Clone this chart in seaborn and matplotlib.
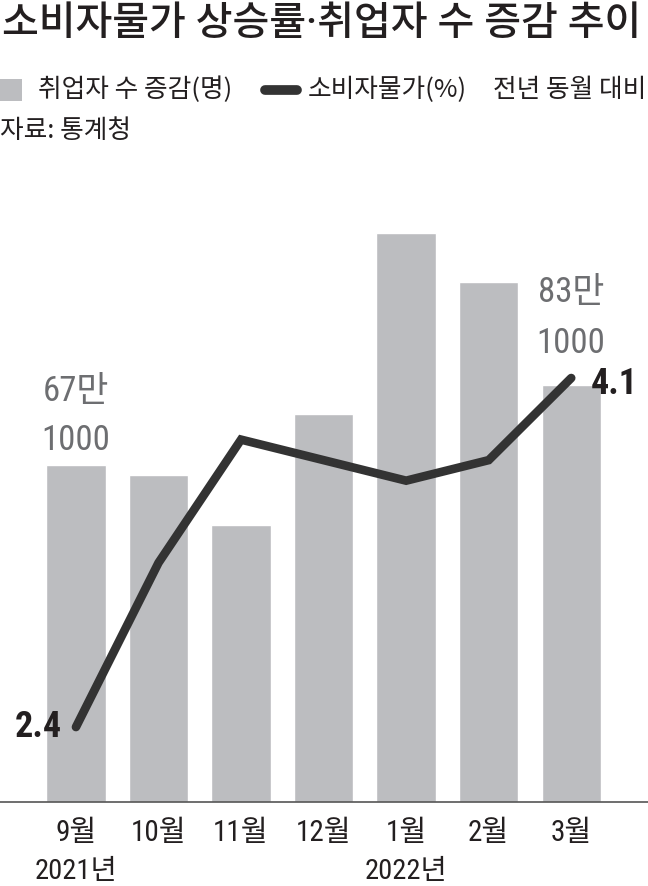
import matplotlib
matplotlib.use('Agg')
import matplotlib.pyplot as plt
import seaborn as sns
from matplotlib import font_manager
from matplotlib.patches import Rectangle
from matplotlib.lines import Line2D

# ---- data ----
months = ['9월', '10월', '11월', '12월', '1월', '2월', '3월']
year_labels = ['2021년', '', '', '', '2022년', '', '']
employment = [671000, 652000, 553000, 773000, 1135000, 1037000, 831000]
cpi = [2.4, 3.2, 3.8, 3.7, 3.6, 3.7, 4.1]

title = '소비자물가 상승률·취업자 수 증감 추이'
legend_bar = '취업자 수 증감(명)'
legend_line = '소비자물가(%)'
legend_note = '전년 동월 대비'
source = '자료: 통계청'
first_label = '67만\n1000'
last_label = '83만\n1000'

BAR = '#bcbdc0'
LINE = '#333333'
TXT = '#231f20'
GRAY = '#6d6e71'

sns.set_theme(style='white')
avail = {f.name for f in font_manager.fontManager.ttflist}
cjk_names = ['Noto Sans CJK KR', 'Noto Sans CJK JP', 'Noto Sans CJK SC', 'Noto Sans CJK TC']
cjk_first = [n for n in cjk_names if n in avail][:1] or ['Noto Sans CJK KR']
cjk = cjk_first + ['DejaVu Sans']
narrow = [n for n in ['Liberation Sans Narrow', 'Roboto Condensed'] if n in avail] + cjk
latin_first = [n for n in ['Roboto'] if n in avail] + cjk
plt.rcParams['font.family'] = cjk

W, H = 648, 886
fig = plt.figure(figsize=(W / 100, H / 100), dpi=100)
fig.patch.set_facecolor('white')

def fx(x):
    return x / W

def fy(y):
    return 1 - y / H

base_y = 802
top_y = 200
ax = fig.add_axes([0, fy(base_y), 1, (base_y - top_y) / H])
sns.barplot(x=months, y=employment, color=BAR, saturation=1, width=0.72, ax=ax)
ax.set_xlim(-0.92, 6.93)
ax.set_ylim(0, 1.2e6)
ax.set_yticks([])
ax.set_ylabel('')
ax.set_xlabel('')
for s in ['top', 'left', 'right']:
    ax.spines[s].set_visible(False)
ax.spines['bottom'].set_color('#555555')
ax.spines['bottom'].set_linewidth(1.2)
ax.tick_params(axis='x', length=0, pad=12, labelsize=21, labelcolor=TXT)
for t in ax.get_xticklabels():
    t.set_family(narrow)
ax.set_facecolor('none')

ax2 = ax.twinx()
sns.lineplot(x=list(range(len(cpi))), y=cpi, ax=ax2, color=LINE, linewidth=6.2,
             solid_capstyle='round', solid_joinstyle='miter')
ax2.set_ylim(2.035, 4.967)
ax2.set_yticks([])
ax2.set_ylabel('')
for s in ['top', 'left', 'right', 'bottom']:
    ax2.spines[s].set_visible(False)

# year labels
for i, yl in enumerate(year_labels):
    if yl:
        ax.annotate(yl, xy=(i, 0), xycoords=('data', 'axes fraction'),
                    xytext=(0, -50), textcoords='offset points',
                    ha='center', va='center', fontsize=20.5, color=TXT,
                    family=narrow)

# value annotations
ax.annotate(first_label, xy=(0, employment[0]), xytext=(0, 6), textcoords='offset points',
            ha='center', va='bottom', fontsize=25, color=GRAY, linespacing=1.6,
            family=narrow)
ax2.annotate(last_label, xy=(6, cpi[-1]), xytext=(0, 13), textcoords='offset points',
             ha='center', va='bottom', fontsize=25, color=GRAY, linespacing=1.7,
             family=narrow)
ax2.annotate(f'{cpi[0]}', xy=(0, cpi[0]), xytext=(-10, 0), textcoords='offset points',
             ha='right', va='center', fontsize=26, color=TXT, fontweight='bold',
             family=narrow)
ax2.annotate(f'{cpi[-1]}', xy=(6, cpi[-1]), xytext=(14, -4), textcoords='offset points',
             ha='left', va='center', fontsize=26, color=TXT, fontweight='bold',
             family=narrow)

# title, legend, source
fig.text(fx(2), fy(24), title, ha='left', va='center', fontsize=28.8, color=TXT,
         fontweight='medium', family=latin_first)
fig.patches.append(Rectangle((fx(0), fy(101)), fx(22), 22 / H, transform=fig.transFigure,
                             facecolor=BAR, edgecolor='none'))
fig.text(fx(38), fy(90), legend_bar, ha='left', va='center', fontsize=18.5, color=TXT)
fig.lines.append(Line2D([fx(265), fx(297)], [fy(90), fy(90)], transform=fig.transFigure,
                        color=LINE, linewidth=7, solid_capstyle='round'))
fig.text(fx(308), fy(90), legend_line, ha='left', va='center', fontsize=18.5, color=TXT)
fig.text(fx(646), fy(90), legend_note, ha='right', va='center', fontsize=18.5, color=TXT)
fig.text(fx(0), fy(131), source, ha='left', va='center', fontsize=18.5, color=TXT)

fig.savefig('out.png', dpi=100, facecolor='white')
